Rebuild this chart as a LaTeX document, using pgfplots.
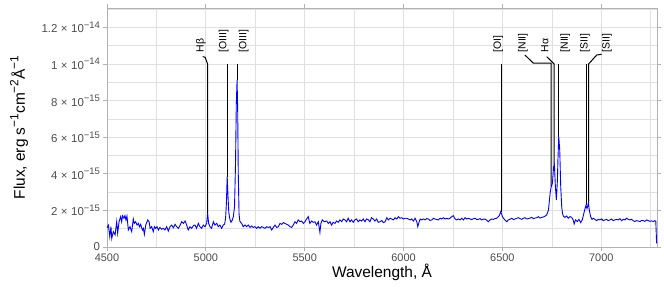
\documentclass[border=0pt]{standalone}
\usepackage{fontspec}
\setmainfont{Liberation Sans}
\usepackage{pgfplots}
\usepackage{pgfplotstable}
\pgfplotsset{compat=1.18}
\definecolor{gridc}{gray}{0.88}
\definecolor{borderc}{gray}{0.70}
\definecolor{ticklab}{gray}{0.30}
\newcommand{\tsup}[1]{\raisebox{0.75ex}{\fontsize{9.5}{10}\selectfont #1}}
\newcommand{\lsup}[1]{\raisebox{0.8ex}{\fontsize{12}{12}\selectfont #1}}
\newcommand{\tl}[2]{#1\hspace{3.5bp}×\hspace{3.5bp}10\tsup{#2}}
\pgfplotstableread{
x y
4500 1.05
4507 1.20
4514 0.56
4520 1.11
4524 0.47
4532 0.84
4541 0.66
4549 1.38
4554 0.75
4561 1.38
4569 1.66
4574 1.38
4579 1.71
4586 1.57
4591 1.71
4596 1.48
4601 1.69
4608 0.93
4616 1.11
4625 0.84
4633 1.53
4638 1.29
4645 1.38
4652 1.20
4659 1.29
4664 1.11
4670 1.24
4679 0.93
4684 1.02
4689 0.69
4696 1.20
4706 1.48
4713 1.38
4718 1.02
4726 1.11
4734 0.84
4740 1.11
4746 1.02
4753 1.11
4760 0.93
4768 1.07
4777 0.97
4785 1.02
4793 0.93
4802 1.11
4810 0.87
4819 1.11
4827 1.20
4836 1.05
4844 1.24
4852 1.11
4861 1.02
4869 1.17
4878 1.38
4886 1.29
4895 1.42
4903 1.20
4911 0.93
4920 1.11
4928 1.02
4937 1.17
4945 1.20
4953 1.02
4962 1.29
4970 1.11
4979 1.02
4987 1.20
4996 1.11
5004 1.29
5009 1.85
5014 1.29
5021 1.11
5029 1.02
5038 1.38
5046 1.20
5055 1.29
5063 1.11
5071 1.20
5080 1.02
5088 1.20
5095 1.25
5100 1.60
5104 2.40
5108 3.85
5112 2.80
5116 1.90
5121 1.55
5127 1.35
5133 1.45
5139 1.65
5145 2.20
5150 4.50
5154 7.80
5158 9.13
5161 7.50
5164 4.00
5168 1.80
5172 1.40
5181 1.29
5189 1.11
5198 1.20
5206 1.11
5215 1.20
5223 1.07
5232 1.15
5240 1.07
5248 1.11
5257 1.02
5265 1.11
5274 1.02
5282 1.11
5291 1.07
5299 1.02
5308 1.11
5316 1.07
5325 1.11
5333 0.93
5341 1.07
5350 1.20
5358 1.07
5367 1.11
5375 1.29
5383 1.24
5392 1.33
5400 1.29
5417 1.20
5425 1.11
5434 1.07
5442 1.20
5451 1.38
5459 1.29
5467 1.48
5476 1.38
5484 1.42
5493 1.29
5501 1.38
5510 1.53
5518 1.66
5526 1.29
5535 1.42
5543 1.35
5552 1.38
5560 1.20
5569 1.38
5577 0.80
5582 1.29
5589 1.48
5599 1.38
5611 1.42
5619 1.29
5628 1.38
5636 1.20
5644 1.35
5653 1.29
5661 1.42
5670 1.35
5678 1.48
5687 1.38
5695 1.53
5703 1.48
5712 1.38
5720 1.57
5729 1.38
5737 1.48
5746 1.35
5754 1.48
5762 1.53
5771 1.38
5779 1.48
5788 1.42
5796 1.53
5805 1.38
5813 1.53
5822 1.48
5830 1.38
5838 1.60
5847 1.53
5855 1.42
5864 1.53
5872 1.35
5881 1.38
5890 1.45
5898 1.33
5907 1.38
5915 1.60
5923 1.48
5932 1.57
5940 1.53
5949 1.48
5957 1.60
5966 1.53
5974 1.66
5982 1.57
5991 1.60
5999 1.53
6008 1.57
6016 1.57
6025 1.53
6033 1.48
6041 1.53
6050 1.42
6058 1.57
6067 1.38
6072 1.11
6079 1.38
6084 1.53
6092 1.48
6100 1.53
6109 1.48
6117 1.55
6126 1.53
6134 1.45
6143 1.48
6151 1.57
6159 1.53
6168 1.50
6176 1.48
6185 1.57
6193 1.53
6202 1.60
6210 1.53
6218 1.57
6227 1.53
6235 1.57
6244 1.66
6252 1.71
6261 1.53
6269 1.48
6277 1.53
6286 1.48
6294 1.57
6303 1.48
6311 1.60
6320 1.53
6328 1.57
6337 1.53
6345 1.50
6354 1.55
6362 1.57
6370 1.50
6378 1.51
6387 1.55
6395 1.48
6404 1.52
6412 1.53
6420 1.47
6429 1.38
6437 1.48
6446 1.53
6454 1.51
6462 1.55
6471 1.57
6480 1.66
6486 1.75
6491 1.93
6496 1.80
6500 1.66
6507 1.55
6513 1.48
6522 1.38
6530 1.48
6539 1.52
6547 1.57
6556 1.50
6564 1.53
6572 1.57
6581 1.60
6589 1.55
6598 1.51
6606 1.57
6614 1.60
6623 1.53
6631 1.55
6640 1.58
6648 1.62
6657 1.55
6665 1.58
6674 1.60
6682 1.66
6690 1.58
6699 1.62
6707 1.64
6716 1.69
6724 1.75
6733 2.02
6738 2.57
6742 3.00
6747 3.30
6753 3.48
6759 4.39
6763 4.50
6768 3.30
6773 2.57
6778 3.60
6781 4.80
6785 6.03
6790 5.30
6795 3.30
6800 2.20
6804 1.84
6808 1.69
6816 1.62
6825 1.69
6833 1.57
6842 1.66
6850 1.62
6858 1.48
6863 1.26
6870 1.48
6879 1.39
6887 1.51
6896 1.33
6904 1.48
6912 1.84
6918 2.10
6923 2.28
6928 2.10
6935 2.40
6940 2.00
6946 1.66
6953 1.51
6960 1.57
6968 1.51
6976 1.44
6985 1.51
6993 1.48
7002 1.53
7010 1.44
7019 1.48
7027 1.51
7035 1.44
7044 1.48
7052 1.53
7061 1.44
7069 1.48
7078 1.51
7086 1.48
7094 1.55
7103 1.44
7111 1.51
7120 1.48
7128 1.57
7137 1.51
7145 1.48
7153 1.51
7162 1.44
7170 1.39
7179 1.44
7187 1.42
7196 1.39
7204 1.45
7212 1.44
7221 1.40
7229 1.48
7238 1.44
7246 1.40
7254 1.43
7263 1.39
7271 1.44
7276 1.40
7280 0.20
}\spectrum
\begin{document}
\begin{tikzpicture}
\path[use as bounding box] (-107bp,-48bp) rectangle (557bp,247bp);
\begin{axis}[
  at={(0,0)}, anchor=south west,
  scale only axis, width=550bp, height=239bp,
  xmin=4500, xmax=7282, ymin=0, ymax=13.06,
  axis line style={draw=borderc, line width=0.8bp},
  xtick={4500,5000,...,7000},
  minor xtick={4750,5250,...,7250},
  ytick={0,2,...,12},
  minor ytick={1,3,...,13},
  yticklabels={0, \tl{2}{−15}, \tl{4}{−15}, \tl{6}{−15}, \tl{8}{−15}, \tl{1}{−14}, \tl{1.2}{−14}},
  grid=both,
  major grid style={draw=gridc, line width=0.8bp},
  minor grid style={draw=gridc, line width=0.45bp},
  tick align=outside,
  major tick length=3.5bp,
  minor tick length=0pt,
  tick style={draw=borderc, line width=0.7bp},
  tick label style={font=\fontsize{11}{13}\selectfont, text=ticklab},
  yticklabel style={font=\fontsize{11.5}{13}\selectfont},
  /pgf/number format/1000 sep={},
  /pgf/number format/assume math mode=true,
  xlabel={Wavelength, Å},
  ylabel={Flux, erg s\lsup{−1}cm\lsup{−2}Å\lsup{−1}},
  label style={font=\fontsize{15.5}{18}\selectfont},
  xlabel style={at={(axis description cs:0.5,-0.105)}, anchor=center},
  ylabel style={at={(axis description cs:-0.16,0.5)}, anchor=center},
  clip=true,
]
% line markers
\addplot[black, line width=1bp] coordinates {(5009,1.85) (5009,10) (4996,10.37) (4984,10.4)};
\addplot[black, line width=1bp] coordinates {(5108,3.85) (5108,10)};
\addplot[black, line width=1bp] coordinates {(5159,9.13) (5159,10)};
\addplot[black, line width=1bp] coordinates {(6493,1.9) (6493,10)};
\addplot[black, line width=1bp] coordinates {(6747,3.3) (6747,10.05) (6656,10.05) (6614,10.49)};
\addplot[black, line width=1bp] coordinates {(6762,4.5) (6762,10) (6724,10.4)};
\addplot[black, line width=1bp] coordinates {(6785,6.0) (6785,10)};
\addplot[black, line width=1bp] coordinates {(6924,2.3) (6924,10)};
\addplot[black, line width=1bp] coordinates {(6936,2.4) (6936,10) (6977,10.49) (7002,10.53)};
% spectrum
\addplot[blue, line width=0.9bp] table[x=x, y=y] {\spectrum};
% labels
\begin{scope}[every node/.style={rotate=90, anchor=west, inner sep=0pt, font=\fontsize{10.5}{12}\selectfont}]
\node at (axis cs:4975,10.62) {Hβ};
\node at (axis cs:5090,10.62) {[OIII]};
\node at (axis cs:5191,10.62) {[OIII]};
\node at (axis cs:6479,10.62) {[OI]};
\node at (axis cs:6604,10.62) {[NII]};
\node at (axis cs:6715,10.62) {Hα};
\node at (axis cs:6817,10.62) {[NII]};
\node at (axis cs:6918,10.62) {[SII]};
\node at (axis cs:7029,10.62) {[SII]};
\end{scope}
\end{axis}
\end{tikzpicture}
\end{document}
